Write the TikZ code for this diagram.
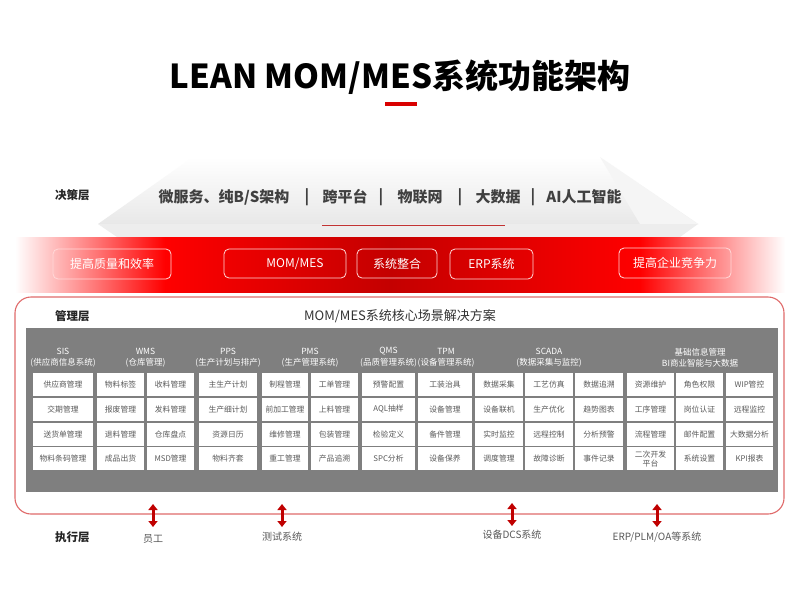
\documentclass[tikz,border=0pt]{standalone}
\usepackage{fontspec}
\setmainfont{Noto Sans CJK SC}
\usetikzlibrary{arrows.meta}
\definecolor{bandred}{HTML}{FF0000}
\definecolor{darkred}{HTML}{C40000}
\definecolor{arrowred}{HTML}{C00000}
\definecolor{panelgray}{HTML}{7F7F7F}
\definecolor{celltext}{HTML}{5A5A5A}
\definecolor{frame}{HTML}{E06A6A}
\newcommand\mkcell[5]{%
  \node[cellbox, minimum width={(#3-#2)*1pt}] (c#1-#4) at ({(#2+#3)/2},{373+(#4-1)*24.8+11.5}) {#5};}
\begin{document}
\begin{tikzpicture}[x=1pt,y=-1pt,
  cellbox/.style={fill=white, inner sep=0pt, minimum height=23pt, text=celltext, font=\fontsize{7.8}{8.4}\selectfont, align=center},
  hdr/.style={text=white, inner sep=0pt, font=\fontsize{8.5}{9}\selectfont},
  bandbox/.style={draw=white!85!red, line width=0.8pt, rounded corners=5pt, text=white, font=\fontsize{12}{13}\selectfont, inner sep=0pt},
  layer/.style={font=\fontsize{11.5}{12}\selectfont\bfseries, text=black!85, anchor=west, inner sep=0pt},
  dec/.style={font=\fontsize{15}{16}\selectfont\bfseries, text=black!75, inner sep=0pt},
  bot/.style={font=\fontsize{10}{11}\selectfont, text=black!65, inner sep=0pt},
  dbl/.style={arrowred, line width=3pt, {Triangle[width=9pt,length=6pt]}-{Triangle[width=9pt,length=6pt]}}
]
\useasboundingbox (0,0) rectangle (800,608);
\fill[white] (0,0) rectangle (800,608);
% title
\node[font=\fontsize{33}{36}\selectfont\bfseries, inner sep=0pt] (title) at (400,77) {LEAN MOM/MES系统功能架构};
\fill[red!85!black] (385,102) rectangle (417,106);
% decision layer
\shade[top color=white, bottom color=black!9] (193,157) -- (600,157) -- (698,224) -- (98,224) -- cycle;
\fill[black!4] (600,157) -- (698,224) -- (640,224) -- cycle;
\fill[black!7] (98,224) -- (698,224) -- (680,237) -- (117,237) -- cycle;
\draw[red!70!black!80, line width=1pt] (322,225) -- (505,225);
\node[layer] (l1) at (55,195) {决策层};
\node[dec] (d1) at (224,197) {微服务、纯B/S架构};
\node[dec] (s1) at (307,197) {|};
\node[dec] (d2) at (345,197) {跨平台};
\node[dec] (s2) at (381,197) {|};
\node[dec] (d3) at (420,197) {物联网};
\node[dec] (s3) at (460,197) {|};
\node[dec] (d4) at (498,197) {大数据};
\node[dec] (s4) at (533,197) {|};
\node[dec] (d5) at (584,197) {AI人工智能};
% red band
\shade[left color=white, right color=bandred] (15,237) rectangle (165,292);
\shade[left color=bandred, right color=darkred] (165,237) rectangle (390,292);
\shade[left color=darkred, right color=bandred] (390,237) rectangle (640,292);
\shade[left color=bandred, right color=white] (640,237) rectangle (785,292);
\node[bandbox, minimum width=118pt, minimum height=30pt] (b1) at (112,264) {提高质量和效率};
\node[bandbox, minimum width=122pt, minimum height=29pt] (b2) at (285,263.5) {\hspace*{20pt}MOM/MES};
\node[bandbox, minimum width=80pt, minimum height=29pt] (b3) at (397,263.5) {系统整合};
\node[bandbox, minimum width=83pt, minimum height=30pt] (b4) at (491.5,264) {ERP系统};
\node[bandbox, minimum width=112pt, minimum height=30pt] (b5) at (675,263) {提高企业竞争力};
% management layer
\draw[frame, line width=1.1pt, rounded corners=16pt] (15,297) rectangle (784,514);
\node[layer] (l2) at (55,316) {管理层};
\node[font=\fontsize{13}{14}\selectfont, text=black!80, inner sep=0pt] (mtitle) at (400,316) {MOM/MES系统核心场景解决方案};
\fill[panelgray] (26,328) rectangle (778,492);
% headers
\node[hdr] (h1a) at (63,351) {SIS};
\node[hdr] (h1b) at (63,363) {(供应商信息系统)};
\node[hdr] (h2a) at (145.5,351) {WMS};
\node[hdr] (h2b) at (145.5,363) {(仓库管理)};
\node[hdr] (h3a) at (228,351) {PPS};
\node[hdr] (h3b) at (228,363) {(生产计划与排产)};
\node[hdr] (h4a) at (310,351) {PMS};
\node[hdr] (h4b) at (310,363) {(生产管理系统)};
\node[hdr] (h5a) at (388.5,351) {QMS};
\node[hdr] (h5b) at (388.5,363) {(品质管理系统)};
\node[hdr] (h6a) at (446,351) {TPM};
\node[hdr] (h6b) at (446,363) {(设备管理系统)};
\node[hdr] (h7a) at (549,351) {SCADA};
\node[hdr] (h7b) at (549,363) {(数据采集与监控)};
\node[hdr] (h8a) at (700,352) {基础信息管理};
\node[hdr] (h8b) at (700,363) {BI商业智能与大数据};
% cells
\foreach \c/\xl/\xr/\ta/\tb/\tc/\td in {
  1/33/93/供应商管理/交期管理/送货单管理/物料条码管理,
  2/97/144/物料标签/报废管理/退料管理/成品出货,
  3/147/194/收料管理/发料管理/仓库盘点/MSD管理,
  4/199/257/主生产计划/生产细计划/资源日历/物料齐套,
  5/262/308/制程管理/前加工管理/维修管理/重工管理,
  6/311/358/工单管理/上料管理/包装管理/产品追溯,
  7/362/415/预警配置/AQL抽样/检验定义/SPC分析,
  8/418/472/工装治具/设备管理/备件管理/设备保养,
  9/475/523/数据采集/设备联机/实时监控/调度管理,
  10/525/573/工艺仿真/生产优化/远程控制/故障诊断,
  11/575/623/数据追溯/趋势图表/分析预警/事件记录,
  12/627/674/资源维护/工序管理/流程管理/{二次开发\\平台},
  13/676/723/角色权限/岗位认证/邮件配置/系统设置,
  14/726/773/WIP管控/远程监控/大数据分析/KPI报表}{
  \mkcell{\c}{\xl}{\xr}{1}{\ta}
  \mkcell{\c}{\xl}{\xr}{2}{\tb}
  \mkcell{\c}{\xl}{\xr}{3}{\tc}
  \mkcell{\c}{\xl}{\xr}{4}{\td}
}
% execution layer
\node[layer] (l3) at (55,537) {执行层};
\coordinate (a1) at (153,504); \coordinate (a1b) at (153,527);
\coordinate (a2) at (282,504); \coordinate (a2b) at (282,527);
\coordinate (a3) at (512,503); \coordinate (a3b) at (512,526);
\coordinate (a4) at (657,504); \coordinate (a4b) at (657,527);
\draw[dbl] (a1) -- (a1b);
\draw[dbl] (a2) -- (a2b);
\draw[dbl] (a3) -- (a3b);
\draw[dbl] (a4) -- (a4b);
\node[bot] (e1) at (153,539) {员工};
\node[bot] (e2) at (282,537) {测试系统};
\node[bot] (e3) at (512,535) {设备DCS系统};
\node[bot] (e4) at (657,537) {ERP/PLM/OA等系统};
\end{tikzpicture}
\end{document}
